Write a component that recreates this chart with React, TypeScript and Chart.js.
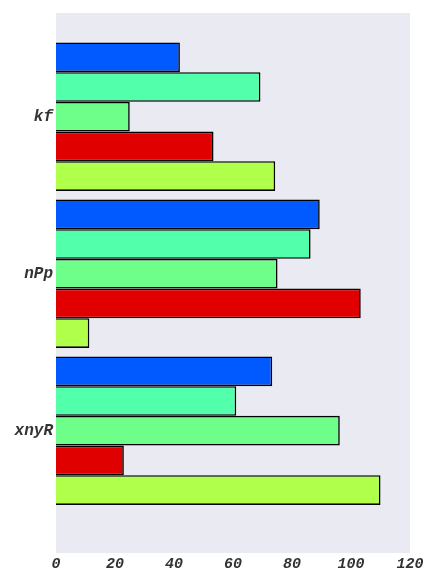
import React, { useEffect, useRef } from "react";
import { Chart, registerables } from "chart.js";

Chart.register(...registerables);

const categories = ["kf", "nPp", "xnyR"];
const seriesBlue = [42, 89.4, 73.3];
const seriesTeal = [69.3, 86.3, 61.1];
const seriesGreen = [25, 75.1, 96.2];
const seriesRed = [53.4, 103.3, 23];
const seriesLime = [74.3, 11.3, 110];
const seriesColors = ["#005aff", "#52ffaa", "#6eff8a", "#e00000", "#b0ff4a"];
const xTicks = [0, 20, 40, 60, 80, 100, 120];

const allSeries = [seriesBlue, seriesTeal, seriesGreen, seriesRed, seriesLime];

const bgPlugin = {
  id: "plotBg",
  beforeDraw(chart: any) {
    const { ctx, chartArea } = chart;
    ctx.save();
    ctx.fillStyle = "#eaeaf2";
    ctx.fillRect(chartArea.left, chartArea.top, chartArea.right - chartArea.left, chartArea.bottom - chartArea.top);
    ctx.restore();
  },
};

export default function App() {
  const ref = useRef<HTMLCanvasElement | null>(null);
  useEffect(() => {
    document.body.style.margin = "0";
    const family = "'Liberation Mono', 'DejaVu Sans Mono', monospace";
    const xFont = { family, size: 15, style: "italic" as const, weight: "bold" as const };
    const yFont = { family, size: 16, style: "italic" as const, weight: "bold" as const };
    const chart = new Chart(ref.current!, {
      type: "bar",
      data: {
        datasets: allSeries.map((s, i) => ({
          label: "s" + i,
          data: s.map((v, j) => ({ x: v, y: j })),
          backgroundColor: seriesColors[i],
          borderColor: "#000000",
          borderWidth: 1.6,
          categoryPercentage: 0.946,
          barPercentage: 1,
        })),
      },
      options: {
        indexAxis: "y",
        responsive: false,
        animation: false,
        layout: { padding: { top: 13, right: 28, left: 0, bottom: 0 } },
        plugins: { legend: { display: false }, tooltip: { enabled: false } },
        scales: {
          x: {
            type: "linear",
            min: 0,
            max: 120,
            grid: { display: false, drawTicks: false, tickLength: 0 },
            border: { display: false },
            ticks: { stepSize: 20, color: "#333333", font: xFont, padding: 2 },
            afterBuildTicks: (s: any) => {
              s.ticks = xTicks.map((v) => ({ value: v }));
            },
            afterFit: (s: any) => {
              s.height = 31;
            },
          },
          y: {
            type: "linear",
            reverse: true,
            offset: false,
            min: -0.6605,
            max: 2.779,
            grid: { display: false, drawTicks: false, tickLength: 0, offset: false },
            border: { display: false },
            ticks: {
              color: "#333333",
              font: yFont,
              padding: 3,
              callback: (v: any) => categories[v] ?? "",
            },
            afterBuildTicks: (s: any) => {
              s.ticks = categories.map((_, i) => ({ value: i }));
            },
            afterFit: (s: any) => {
              s.width = 56;
            },
          },
        },
      },
      plugins: [bgPlugin],
    } as any);
    return () => chart.destroy();
  }, []);
  return (
    <div style={{ position: "absolute", left: 0, top: 0 }}>
      <canvas ref={ref} width={438} height={584} />
    </div>
  );
}
